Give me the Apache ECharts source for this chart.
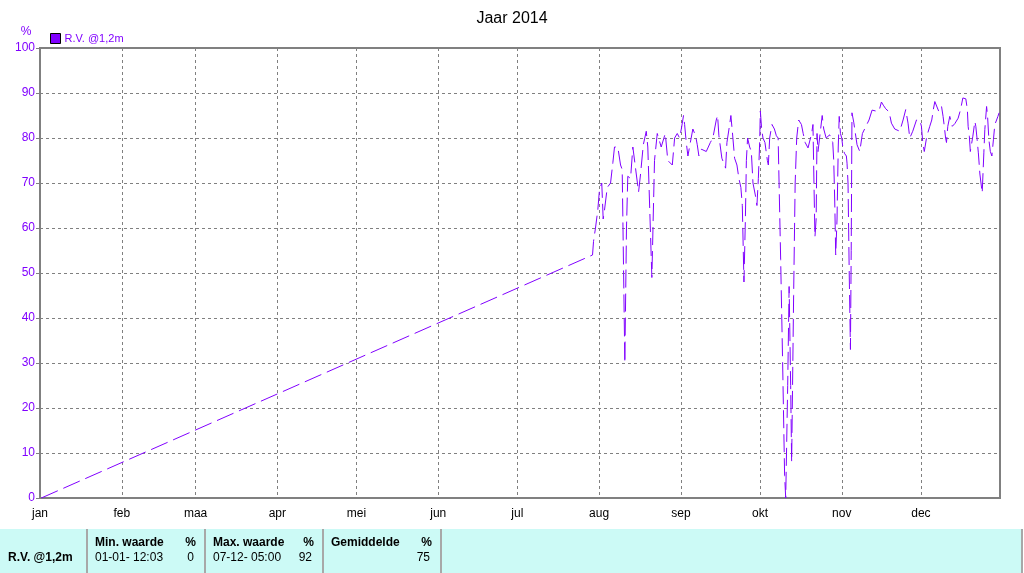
<!DOCTYPE html>
<html><head><meta charset="utf-8">
<script src="https://cdn.jsdelivr.net/npm/echarts@6/dist/echarts.min.js"></script>
<style>html,body{margin:0;padding:0;background:#fff}#c{width:1024px;height:573px}</style>
</head><body><div id="c"></div>
<script>
const chartTitle = 'Jaar 2014';
const seriesName = 'R.V. @1,2m';
const unitLabel = '%';
const monthLabels = ['jan','feb','maa','apr','mei','jun','jul','aug','sep','okt','nov','dec'];

// relative humidity readings ["MM-DD HH:mm", %]
const rvStart = [['01-01 12:03',0],['07-29 12:00',54],['07-29 21:00',57]];
const rvAug = [['07-30 15:00',60],['07-31 12:00',64],['08-01 03:00',68.5],['08-02 00:00',70],['08-02 13:00',62],['08-03 01:00',64],['08-04 02:00',69],['08-05 08:00',70],['08-06 05:00',74.5],['08-06 20:00',78],['08-08 02:00',78],['08-09 03:00',74],['08-09 18:00',73],['08-10 18:00',30],['08-11 09:00',60],['08-11 21:00',71.5],['08-12 22:00',71],['08-13 19:00',78],['08-15 02:00',72],['08-15 23:00',68],['08-16 17:00',72],['08-17 18:00',78.5],['08-18 21:00',81.5],['08-19 11:00',78],['08-21 00:00',49],['08-22 00:00',75],['08-23 01:00',81],['08-24 13:00',78],['08-26 02:00',81],['08-27 01:00',75],['08-28 18:00',74],['08-29 15:00',80],['08-30 15:00',81],['08-31 12:00',80]];
const rvSep = [['09-01 04:00',82],['09-02 00:00',85],['09-02 10:00',83],['09-03 01:00',79],['09-03 16:00',76],['09-04 14:00',79],['09-05 13:00',82],['09-06 14:00',80.5],['09-07 05:00',78.5],['09-07 20:00',76],['09-08 20:00',77.5],['09-10 15:00',77],['09-12 04:00',79],['09-13 03:00',80],['09-14 10:00',84],['09-14 22:00',85],['09-15 10:00',80.5],['09-16 13:00',75.5],['09-17 23:00',73.3],['09-18 11:00',79],['09-19 12:00',83],['09-19 23:00',85],['09-20 12:00',81.5],['09-21 09:00',75.5],['09-22 06:00',74],['09-23 00:00',71],['09-23 18:00',69],['09-24 07:00',65],['09-24 22:00',48],['09-25 11:00',62],['09-25 20:00',75],['09-26 07:00',80],['09-27 02:00',78],['09-27 17:00',77],['09-28 08:00',70],['09-29 08:00',67],['09-29 20:00',65],['09-30 09:00',71],['09-30 21:00',79]];
const rvOct = [['10-01 03:00',86],['10-01 15:00',82],['10-02 03:00',80],['10-02 21:00',79],['10-03 19:00',75],['10-04 04:00',74],['10-04 16:00',80],['10-05 13:00',83],['10-06 11:00',82],['10-07 05:00',80.5],['10-07 21:00',80],['10-08 20:00',53],['10-09 14:00',30],['10-10 08:00',5],['10-10 18:00',0],['10-11 12:00',25],['10-12 01:00',47],['10-12 15:00',25],['10-13 00:00',8],['10-13 18:00',45],['10-14 08:00',70],['10-14 22:00',80],['10-15 16:00',84],['10-16 17:00',83],['10-17 09:00',81],['10-18 03:00',79],['10-19 05:00',77.8],['10-19 20:00',77.4],['10-20 14:00',81],['10-21 02:00',83],['10-21 11:00',70],['10-21 20:00',58],['10-22 07:00',62],['10-22 15:00',81],['10-23 00:00',77],['10-23 15:00',77],['10-24 14:00',85],['10-25 04:00',82],['10-26 02:00',80],['10-27 10:00',80.7],['10-28 02:00',81],['10-28 14:00',79],['10-28 23:00',75],['10-29 08:00',66],['10-29 17:00',54],['10-30 05:00',62],['10-30 16:00',78],['10-31 01:00',84.8],['10-31 12:00',81]];
const rvNov = [['11-01 00:00',80],['11-01 12:00',77.4],['11-02 03:00',76.5],['11-02 18:00',76],['11-03 00:00',74.4],['11-03 09:00',70],['11-03 20:00',50],['11-04 07:00',33],['11-04 14:00',55],['11-04 21:00',85.6],['11-05 13:00',83.5],['11-06 19:00',78.5],['11-07 20:00',77],['11-08 20:00',81],['11-10 02:00',82.5],['11-11 08:00',84],['11-12 12:00',86.2],['11-13 21:00',86],['11-15 03:00',86],['11-16 01:00',88],['11-16 18:00',87.3],['11-17 16:00',86.5],['11-18 23:00',85.8],['11-19 20:00',83.3],['11-21 02:00',82],['11-23 00:00',81.5],['11-24 06:00',84],['11-25 06:00',86.3],['11-26 03:00',83.3],['11-26 19:00',80],['11-27 22:00',81.5],['11-29 08:00',84],['11-30 14:00',84]];
const rvDec = [['12-01 05:00',82.6],['12-01 17:00',79],['12-02 07:00',77],['12-03 06:00',80.4],['12-04 09:00',82.6],['12-05 03:00',84],['12-05 17:00',86.3],['12-06 07:00',88.1],['12-07 01:00',87.8],['12-07 19:00',85.9],['12-08 20:00',87],['12-09 10:00',84.8],['12-09 21:00',82.6],['12-10 09:00',80],['12-10 17:00',79],['12-11 05:00',82.6],['12-11 23:00',84.8],['12-12 22:00',82.6],['12-13 21:00',83.2],['12-15 03:00',84.4],['12-16 01:00',86.3],['12-16 22:00',88.9],['12-17 16:00',89],['12-18 01:00',88.7],['12-18 15:00',86.3],['12-18 22:00',82.6],['12-19 09:00',80.4],['12-19 18:00',77],['12-20 05:00',76.7],['12-20 17:00',80.4],['12-21 11:00',83.7],['12-21 20:00',82.6],['12-22 08:00',79.6],['12-22 19:00',76.7],['12-23 09:00',72],['12-24 06:00',67.8],['12-24 21:00',76.7],['12-25 06:00',81.9],['12-25 22:00',87],['12-26 07:00',84.8],['12-26 19:00',79.6],['12-27 08:00',77],['12-27 22:00',76],['12-28 12:00',79.6],['12-29 01:00',83],['12-29 17:00',84],['12-30 05:00',84.8],['12-30 16:00',85.6]];

// summary table
const tableHeaders = ['Min. waarde','Max. waarde','Gemiddelde'];
const tableTimes = ['01-01- 12:03','07-12- 05:00',''];
const tableValues = ['0','92','75'];

const YEAR = 2014;
function ts(s){
  const m = +s.slice(0,2), d = +s.slice(3,5), h = +s.slice(6,8), mi = +s.slice(9,11);
  return new Date(YEAR, m-1, d, h, mi).getTime();
}
const rvData = [].concat(rvStart, rvAug, rvSep, rvOct, rvNov, rvDec).map(p => [ts(p[0]), p[1]]);

const PURPLE = '#8000FF';
const GRAY = '#808080';
const FONT = 'Liberation Sans';

const chart = echarts.init(document.getElementById('c'));

const colX = [87, 205, 323, 441, 1022];
const graphics = [
  {type:'rect', shape:{x:0,y:529,width:1022,height:44}, style:{fill:'#CCFAF6'}, silent:true},
  {type:'text', x:26, y:32, style:{text:unitLabel, fill:PURPLE, font:'12px '+FONT, align:'center', verticalAlign:'middle'}},
  {type:'text', x:8, y:558, style:{text:seriesName, fill:'#000', font:'bold 12px '+FONT, verticalAlign:'middle'}}
];
colX.forEach(x => graphics.push({type:'line', shape:{x1:x,y1:529,x2:x,y2:573}, style:{stroke:'#A8A8A8', lineWidth:2}, silent:true}));
tableHeaders.forEach((h, i) => {
  const x0 = colX[i];
  graphics.push({type:'text', x:x0+8, y:543, style:{text:h, fill:'#000', font:'bold 12px '+FONT, verticalAlign:'middle'}});
  graphics.push({type:'text', x:x0+109, y:543, style:{text:unitLabel, fill:'#000', font:'bold 12px '+FONT, align:'right', verticalAlign:'middle'}});
  graphics.push({type:'text', x:x0+8, y:558, style:{text:tableTimes[i], fill:'#000', font:'12px '+FONT, verticalAlign:'middle'}});
  graphics.push({type:'text', x:x0+107, y:558, style:{text:tableValues[i], fill:'#000', font:'12px '+FONT, align:'right', verticalAlign:'middle'}});
});

chart.setOption({
  animation: false,
  backgroundColor: '#fff',
  title: {text: chartTitle, left: 'center', top: 6, textStyle: {color:'#000', fontSize: 16, fontWeight: 'normal', fontFamily: FONT}},
  legend: {
    left: 45, top: 28, padding: [5,5,5,5], itemWidth: 10, itemHeight: 10, itemGap: 6,
    icon: 'rect',
    itemStyle: {borderColor: '#000', borderWidth: 1},
    textStyle: {color: PURPLE, fontSize: 11, fontFamily: FONT, padding: [0,0,0,-1]},
    data: [seriesName]
  },
  grid: {left: 40, right: 24, top: 48, bottom: 75, show: true, borderColor: GRAY, borderWidth: 2, backgroundColor: '#fff'},
  xAxis: {
    type: 'time',
    min: new Date(YEAR,0,1).getTime(),
    max: new Date(YEAR,11,31).getTime(),
    splitNumber: 12,
    axisLine: {show: false},
    axisTick: {show: false},
    axisLabel: {
      color: '#000', fontSize: 12, fontFamily: FONT, margin: 10,
      formatter: v => monthLabels[new Date(v).getMonth()]
    },
    splitLine: {show: true, lineStyle: {color: GRAY, type: [3,3], width: 1}}
  },
  yAxis: {
    type: 'value', min: 0, max: 100, interval: 10,
    axisLine: {show: false},
    axisTick: {show: true, length: 4, lineStyle: {color: GRAY}},
    axisLabel: {color: PURPLE, fontSize: 12, fontFamily: FONT, margin: 5},
    splitLine: {show: true, lineStyle: {color: GRAY, type: [3,3], width: 1}}
  },
  series: [{
    name: seriesName,
    type: 'line',
    data: rvData,
    showSymbol: false,
    symbol: 'none',
    color: PURPLE,
    lineStyle: {color: PURPLE, width: 1, type: [18,6]}
  }],
  graphic: graphics
});
</script>
</body></html>
